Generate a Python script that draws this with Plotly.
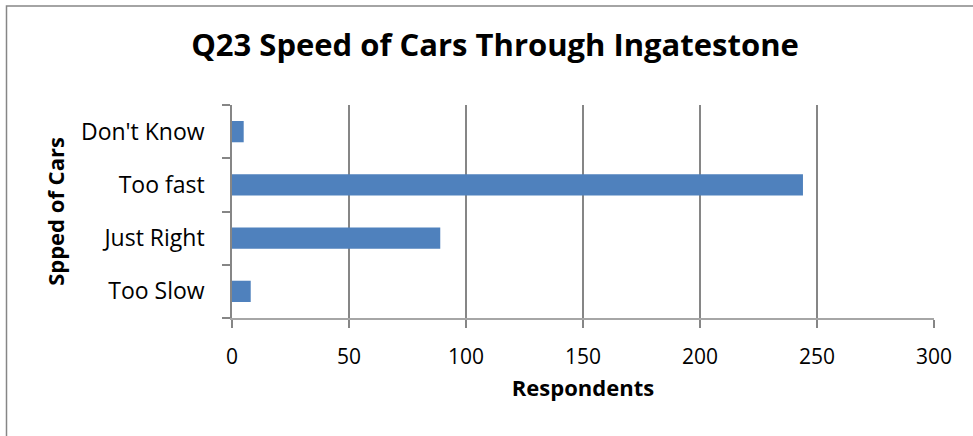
import plotly.graph_objects as go

categories = ["Too Slow", "Just Right", "Too fast", "Don't Know"]
respondents = [8, 89, 244, 5]
x_ticks = [0, 50, 100, 150, 200, 250, 300]

W, H = 973, 436
L, R, T, B = 232, 39, 105, 118
pw, ph = W - L - R, H - T - B

fig = go.Figure(go.Bar(
    x=respondents, y=categories, orientation="h",
    marker=dict(color="#4F81BD", line=dict(width=0)),
))

font = "Open Sans, Arial, sans-serif"
fig.update_layout(
    width=W, height=H,
    margin=dict(l=L, r=R, t=T, b=B),
    paper_bgcolor="white", plot_bgcolor="white",
    bargap=0.6,
    showlegend=False,
    title=dict(text="<b>Q23 Speed of Cars Through Ingatestone</b>",
               font=dict(family=font, size=31, color="black"),
               x=495 / W, xanchor="center", xref="container",
               y=1 - 45 / H, yanchor="middle", yref="container"),
    xaxis=dict(range=[0, 300], tickvals=x_ticks, showgrid=True,
               gridcolor="#868686", gridwidth=1.5,
               showline=True, linecolor="#A6A6A6", linewidth=1.5,
               ticks="outside", ticklen=8, tickcolor="#868686", tickwidth=1.5,
               ticklabelstandoff=11,
               tickfont=dict(family=font, size=21, color="black"),
               zeroline=False,
               title=dict(text="<b>Respondents</b>", standoff=12,
                          font=dict(family=font, size=22, color="black"))),
    yaxis=dict(type="category", categoryorder="array", categoryarray=categories,
               showgrid=False, tickson="boundaries",
               showline=True, linecolor="#868686", linewidth=1.5,
               ticks="outside", ticklen=8, tickcolor="#868686", tickwidth=1.5,
               ticklabelstandoff=21,
               tickfont=dict(family=font, size=23, color="black"),
               zeroline=False,
               title=dict(text="<b>Spped of Cars</b>", standoff=10,
                          font=dict(family=font, size=22, color="black"))),
    shapes=[dict(type="rect", xref="paper", yref="paper",
                 x0=(6.5 - L) / pw, x1=(W + 5 - L) / pw,
                 y0=(H - B - (H + 5)) / ph, y1=(H - B - 6) / ph,
                 line=dict(color="#868686", width=1.5), layer="below")],
)

fig.write_html("out.html",
               config={"displayModeBar": False},
               post_script="document.body.style.margin='0';document.body.style.overflow='hidden';")
